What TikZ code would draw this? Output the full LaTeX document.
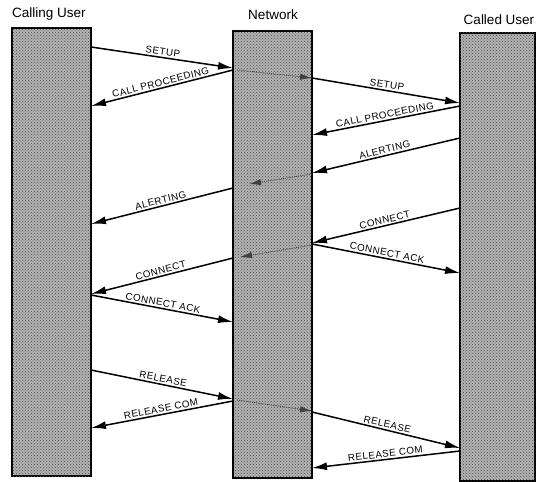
\documentclass[tikz,border=0pt]{standalone}
\usepackage{fontspec}
\setmainfont{Liberation Sans}
\newfontfamily\lblfont[LetterSpace=5]{Liberation Sans}
\usetikzlibrary{arrows.meta,patterns}
\begin{document}
\begin{tikzpicture}[x=1pt,y=-1pt,
  lane/.style={draw=black,line width=1.2pt,fill=gray!60,
    postaction={pattern=crosshatch dots,pattern color=black!70},
    anchor=north west,inner sep=0pt,outer sep=0pt},
  title/.style={font=\fontsize{13.5}{15}\selectfont,inner sep=0pt},
  msg/.style={line width=1.5pt,-{Latex[length=15pt,width=8pt]}},
  msgl/.style={line width=1.5pt,{Latex[length=15pt,width=8pt]}-},
  innerarrow/.style={line width=0.9pt,black!75,densely dotted,-{Latex[length=12pt,width=6.5pt]}},
  lbl/.style={font=\lblfont\fontsize{9.8}{11}\selectfont,sloped,above,inner sep=1.5pt,midway}]
\useasboundingbox (0,0) rectangle (545,481);
% lanes
\node[lane,minimum width=79pt,minimum height=448pt] (calling) at (12,28) {};
\node[lane,minimum width=79pt,minimum height=447pt] (network) at (233,31) {};
\node[lane,minimum width=75pt,minimum height=448pt] (called) at (460,33) {};
% titles
\node[title,anchor=west] (t1) at (12,14) {Calling User};
\node[title] (t2) at (273,15) {Network};
\node[title] (t3) at (499,20) {Called User};
% free ends inside the network
\coordinate (s1) at (237,70);
\coordinate (a1) at (249,184);
\coordinate (c1) at (240,257);
\coordinate (r1) at (237,400);
% messages
\draw[msg] (calling.east |- 0,47) -- node[lbl]{SETUP} (network.west |- 0,68);
\draw[msgl] (calling.east |- 0,106) -- node[lbl]{CALL PROCEEDING} (network.west |- 0,70);
\draw[innerarrow] (s1) -- (network.east |- 0,78);
\draw[msg] (network.east |- 0,78) -- node[lbl]{SETUP} (called.west |- 0,103);
\draw[msgl] (network.east |- 0,135) -- node[lbl]{CALL PROCEEDING} (called.west |- 0,106);
\draw[msgl] (network.east |- 0,173) -- node[lbl]{ALERTING} (called.west |- 0,138);
\draw[innerarrow] (network.east |- 0,174) -- (a1);
\draw[msgl] (calling.east |- 0,224) -- node[lbl]{ALERTING} (network.west |- 0,188);
\draw[msgl] (network.east |- 0,243) -- node[lbl]{CONNECT} (called.west |- 0,208);
\draw[msg] (network.east |- 0,244) -- node[lbl]{CONNECT ACK} (called.west |- 0,273);
\draw[innerarrow] (network.east |- 0,245) -- (c1);
\draw[msgl] (calling.east |- 0,294) -- node[lbl]{CONNECT} (network.west |- 0,258);
\draw[msg] (calling.east |- 0,295) -- node[lbl]{CONNECT ACK} (network.west |- 0,322);
\draw[msg] (calling.east |- 0,370) -- node[lbl]{RELEASE} (network.west |- 0,399);
\draw[msgl] (calling.east |- 0,428) -- node[lbl]{RELEASE COM} (network.west |- 0,401);
\draw[innerarrow] (r1) -- (network.east |- 0,411);
\draw[msg] (network.east |- 0,412) -- node[lbl]{RELEASE} (called.west |- 0,448);
\draw[msgl] (network.east |- 0,468) -- node[lbl]{RELEASE COM} (called.west |- 0,451);
\end{tikzpicture}
\end{document}
